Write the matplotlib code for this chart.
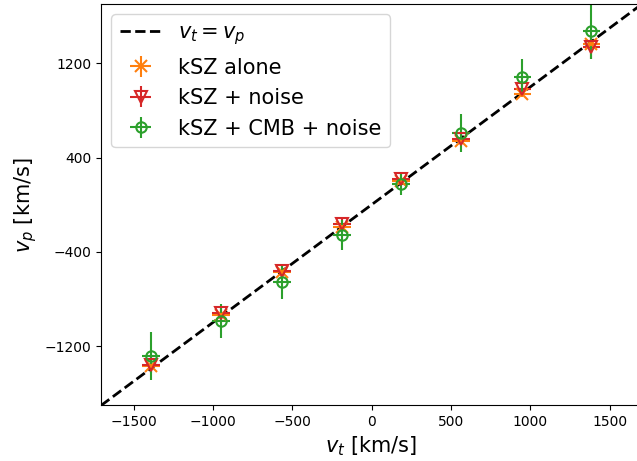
import numpy as np
import matplotlib
matplotlib.use('Agg')
import matplotlib.pyplot as plt

# binned true velocity (km/s)
v_t = [-1390, -950, -565, -185, 185, 565, 950, 1385]
v_t_err = [55, 55, 55, 55, 55, 55, 55, 55]

# reconstructed velocity for the three cases
vp_alone = [-1372, -940, -570, -190, 200, 545, 942, 1364]
vp_alone_err = [40, 30, 25, 20, 20, 25, 30, 40]

vp_noise = [-1363, -918, -560, -163, 218, 555, 984, 1336]
vp_noise_err = [70, 60, 50, 40, 40, 50, 60, 100]

vp_cmb = [-1285, -988, -660, -256, 175, 610, 1083, 1480]
vp_cmb_err = [207, 144, 140, 130, 95, 165, 155, 240]

lim = 1705

fig = plt.figure(figsize=(6.37, 4.61), dpi=100)
ax = fig.add_axes([0.1586, 0.1204, 0.8493, 0.8709])

ax.plot([-lim, lim], [-lim, lim], 'k--', lw=2, label='$v_t = v_p$')
ax.errorbar(v_t, vp_alone, xerr=v_t_err, yerr=vp_alone_err, fmt='x', color='C1',
            ms=8, mew=1.5, elinewidth=1.5, label='kSZ alone')
ax.errorbar(v_t, vp_noise, xerr=v_t_err, yerr=vp_noise_err, fmt='v', color='C3',
            mfc='none', ms=8, mew=1.5, elinewidth=1.5, label='kSZ + noise')
ax.errorbar(v_t, vp_cmb, xerr=v_t_err, yerr=vp_cmb_err, fmt='o', color='C2',
            mfc='none', ms=7.5, mew=1.5, elinewidth=1.5, label='kSZ + CMB + noise')

ax.set_xlim(-lim, lim)
ax.set_ylim(-lim, lim)
ax.set_xticks([-1500, -1000, -500, 0, 500, 1000, 1500])
ax.set_yticks([-1200, -400, 400, 1200])
ax.tick_params(labelsize=10)
ax.set_xlabel('$v_t$ [km/s]', fontsize=15)
ax.set_ylabel('$v_p$ [km/s]', fontsize=15)
ax.legend(loc='upper left', fontsize=15)

fig.savefig('out.png', dpi=100)
